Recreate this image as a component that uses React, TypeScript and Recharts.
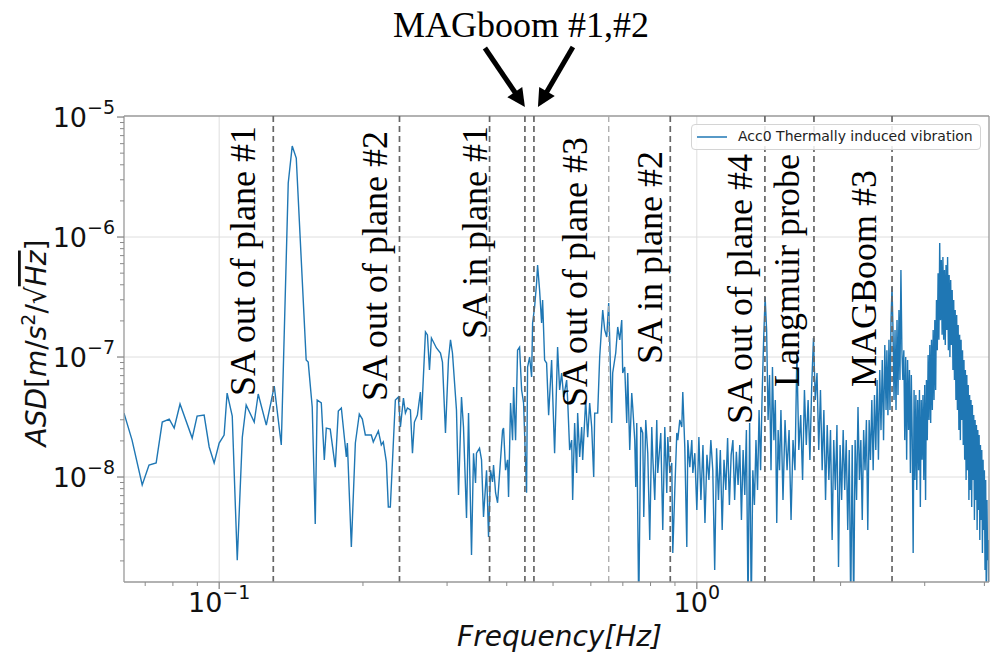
import React from "react";
import { LineChart, Line, XAxis, YAxis, ReferenceLine, Legend } from "recharts";

// Acc0 ASD. Frequency in Hz, ASD in m/s^2/sqrt(Hz)
const lowBandHz = [
  0.0632, 0.0657, 0.069, 0.0713, 0.0738, 0.076, 0.0786, 0.0805, 0.0828, 0.0878,
  0.0899, 0.093, 0.0953, 0.0976, 0.1, 0.1024, 0.1039, 0.1065, 0.1091, 0.1118,
  0.1139, 0.1184, 0.1207, 0.1255, 0.1304, 0.1349, 0.1395, 0.1422, 0.145, 0.1521,
  0.1536, 0.1566, 0.1589, 0.1604, 0.1636, 0.166, 0.1676, 0.1708, 0.175, 0.1776,
  0.1802, 0.1846, 0.1855, 0.1891, 0.1928, 0.1965, 0.1994, 0.2023, 0.2082, 0.2102,
  0.2154, 0.2185, 0.2206, 0.2239, 0.226, 0.2282, 0.2338, 0.2372,
];
const lowBandAsd = [
  3.41e-8, 2.03e-8, 8.6e-9, 1.26e-8, 1.31e-8, 2.87e-8, 3.04e-8, 2.56e-8, 4.06e-8, 2.11e-8,
  3.22e-8, 3.28e-8, 1.78e-8, 1.31e-8, 1.92e-8, 2.24e-8, 5.01e-8, 3.22e-8, 2.03e-9, 2.15e-8,
  3.98e-8, 2.87e-8, 4.92e-8, 2.71e-8, 5.73e-8, 1.85e-8, 2.82e-6, 5.73e-6, 4.55e-6, 9.44e-8,
  9.07e-8, 3.83e-8, 4.06e-9, 4.38e-8, 4.14e-8, 1.39e-8, 2.56e-8, 2.51e-8, 1.21e-8, 3.55e-8,
  3.76e-8, 1.47e-8, 1.92e-8, 2.61e-9, 1.92e-8, 3.35e-8, 3.04e-8, 2.24e-8, 2.24e-8, 1.96e-8,
  2.42e-8, 1.85e-8, 1.96e-8, 1.33e-8, 5.62e-9, 5.62e-9, 4.38e-8, 4.64e-8,
];

const midBandHz = [
  0.2396, 0.2431, 0.2454, 0.2478, 0.2514, 0.2539, 0.2563, 0.26, 0.2638, 0.2651,
  0.2703, 0.2729, 0.2756, 0.2782, 0.285, 0.2906, 0.2934, 0.2977, 0.302, 0.305,
  0.3079, 0.3139, 0.317, 0.3216, 0.3247, 0.3295, 0.3327, 0.3375, 0.3408, 0.3441,
  0.3457, 0.3508, 0.3542, 0.3576, 0.3629, 0.3664, 0.3699, 0.3735, 0.3753, 0.379,
  0.3827, 0.3882, 0.392, 0.3939, 0.3977, 0.4016, 0.4035, 0.4074, 0.4114, 0.4134,
  0.4174, 0.4214, 0.4255, 0.4297, 0.4338, 0.4401, 0.4423, 0.4466, 0.4509, 0.4531,
  0.4575, 0.4619, 0.4641, 0.4686, 0.4732, 0.4755, 0.4801, 0.4847, 0.4895,
  0.4966, 0.499, 0.5038, 0.5087, 0.5111, 0.5162, 0.5212, 0.5262, 0.5339, 0.5365,
  0.5417, 0.547, 0.5496, 0.5549, 0.5603, 0.563, 0.5685, 0.574, 0.5768, 0.5852,
  0.5909, 0.5966, 0.6024, 0.6083, 0.6112, 0.6201, 0.6261, 0.6353, 0.6414, 0.6477,
  0.6539, 0.6571, 0.6634, 0.6666, 0.6764, 0.6829, 0.6896, 0.6963, 0.6996, 0.7064,
  0.7133, 0.7167, 0.7237, 0.7307, 0.7342, 0.7414, 0.745, 0.7486, 0.7558, 0.7632,
  0.7705, 0.7743, 0.7818, 0.7894, 0.797, 0.8048, 0.8087, 0.8165, 0.8244, 0.8284,
  0.8405, 0.8486, 0.8569, 0.8652, 0.8694, 0.8778, 0.8863, 0.8906, 0.8993, 0.908,
  0.9124, 0.9212, 0.9301, 0.9346, 0.9437, 0.9529, 0.9575, 0.9668, 0.9761, 0.9809,
  0.9904, 1.0,
];
const midBandAsd = [
  2.61e-8, 4.55e-8, 3.41e-8, 3.76e-8, 3.62e-8, 1.58e-8, 2.87e-8, 3.28e-8, 5.11e-8, 2.99e-8,
  1.62e-7, 1.53e-7, 7.79e-8, 1.44e-7, 1.19e-7, 1.08e-7, 9.07e-8, 2.33e-8, 9.44e-8, 1.39e-7,
  1.08e-7, 3.62e-8, 7.08e-9, 4.64e-8, 2.61e-8, 4.55e-9, 3.41e-8, 2.24e-9, 1.58e-8, 8.91e-9,
  1.58e-8, 1.74e-8, 1.39e-8, 4.64e-9, 1.14e-8, 3.16e-9, 1.14e-8, 9.1e-9, 1.26e-8, 7.4e-9,
  6.1e-9, 1.39e-8, 2.46e-8, 2.56e-8, 1.14e-8, 1.39e-8, 6.81e-9, 4.14e-8, 2.03e-8, 5.62e-8,
  2.03e-8, 1.14e-7, 1.21e-7, 5.31e-8, 4.14e-8, 7.4e-9, 8.25e-8, 1.0e-7, 6.81e-8, 1.92e-7,
  2.61e-7, 4.14e-7, 5.85e-7, 3.62e-7, 1.92e-7, 2.99e-7, 9.44e-8, 8.91e-8, 3.28e-8,
  9.44e-8, 5.01e-8, 1.58e-8, 6.07e-8, 1.21e-7, 5.31e-8, 7.36e-8, 4.64e-8, 6.43e-8, 4.38e-8,
  1.68e-8, 2.03e-8, 6.43e-9, 2.82e-8, 1.08e-8, 3.41e-8, 1.47e-8, 2.61e-8, 1.39e-8, 4.38e-8,
  2.15e-8, 4.14e-8, 2.61e-8, 1.0e-8, 3.41e-8, 3.41e-8, 1.0e-7, 2.46e-7, 1.68e-7, 1.47e-7,
  2.82e-7, 1.39e-7, 2.82e-8, 7.36e-8, 1.08e-7, 1.78e-7, 1.39e-7, 2.03e-7, 7.36e-8, 8.25e-8,
  2.82e-8, 7.36e-8, 1.68e-8, 5.01e-8, 3.83e-8, 2.03e-8, 8.25e-9, 2.82e-8, 8e-10, 2.61e-8,
  2.33e-8, 4.64e-9, 2.99e-8, 1.58e-8, 2.99e-9, 2.61e-8, 1.47e-8, 6.43e-9, 2.99e-8, 1.08e-8,
  2.33e-8, 3.62e-9, 2.61e-8, 7.36e-9, 2.15e-8, 1.08e-8, 1.31e-8, 2.33e-9, 7.79e-9, 2.33e-8,
  2.03e-8, 2.99e-8, 2.61e-8, 5.11e-8, 1.78e-8, 2.61e-9, 2.03e-8, 1.21e-8, 2.03e-8, 1.08e-8,
  1.58e-8, 5.31e-9,
];

const highBandHz = [
  1.01, 1.02, 1.03, 1.04, 1.05, 1.06, 1.07, 1.08, 1.09, 1.1,
  1.11, 1.12, 1.13, 1.14, 1.15, 1.16, 1.17, 1.18, 1.19, 1.2,
  1.21, 1.22, 1.23, 1.24, 1.25, 1.26, 1.27, 1.28, 1.29, 1.3,
  1.31, 1.32, 1.33, 1.34, 1.35, 1.36, 1.37, 1.38, 1.39, 1.4,
  1.41, 1.42, 1.43, 1.44, 1.45, 1.46, 1.47, 1.48, 1.49, 1.5,
  1.515, 1.53, 1.545, 1.56, 1.575, 1.59, 1.605, 1.62, 1.635, 1.65,
  1.665, 1.68, 1.695, 1.71, 1.725, 1.74, 1.755, 1.77, 1.785, 1.8,
  1.815, 1.83, 1.845, 1.86, 1.875, 1.89, 1.905, 1.92, 1.935, 1.95,
  1.965, 1.98, 1.995, 2.01, 2.025, 2.04, 2.055, 2.07, 2.085, 2.1,
  2.115, 2.13, 2.145, 2.16, 2.175, 2.19, 2.205, 2.22, 2.235, 2.25,
  2.265, 2.28, 2.295, 2.31, 2.325, 2.34, 2.355, 2.37, 2.385, 2.4,
  2.415, 2.43, 2.445, 2.46, 2.475, 2.49,
];
const highBandAsd = [
  2.15e-8, 6.43e-9, 1.85e-8, 4.14e-9, 1.53e-8, 9.44e-9, 2.03e-8, 1.14e-8, 1.68e-9, 1.74e-8,
  6.43e-9, 1.68e-8, 3.62e-9, 1.39e-8, 7.79e-9, 2.11e-8, 5.85e-9, 1.53e-8, 2.03e-8, 6.43e-9,
  1.62e-8, 8.58e-9, 1.85e-8, 4.38e-9, 1.68e-8, 7.08e-9, 2.46e-8, 8e-10, 2.82e-8, 8e-10,
  1.14e-8, 5.85e-9, 2.03e-8, 7.79e-9, 3.62e-8, 1.14e-8, 4.82e-8, 1.39e-7, 3.16e-7, 1.68e-7,
  2.99e-8, 7.08e-8, 1.14e-8, 8.25e-8, 2.03e-8, 4.38e-8, 4.14e-9, 2.46e-8, 1.14e-8, 3.62e-8,
  6.43e-9, 2.99e-8, 1.14e-8, 2.46e-8, 4.38e-9, 2.03e-8, 1.14e-8, 1.08e-7, 1.68e-8, 3.28e-8,
  9.44e-9, 5.31e-8, 1.85e-8, 4.38e-8, 1.39e-8, 5.85e-8, 1.44e-7, 4.38e-8, 7.36e-8, 1.68e-8,
  5.31e-8, 1.14e-8, 3.62e-8, 6.43e-9, 2.71e-8, 9.44e-9, 2.46e-8, 2.99e-9, 2.03e-8, 7.79e-9,
  2.71e-8, 1.78e-9, 1.85e-8, 6.43e-9, 2.46e-8, 7.79e-9, 2.03e-8, 3.62e-9, 1.68e-8, 8e-10,
  1.85e-8, 8e-10, 2.03e-8, 6.43e-9, 3.83e-8, 9.44e-9, 2.03e-8, 4.38e-9, 2.46e-8, 1.14e-8,
  2.99e-8, 3.62e-9, 2.99e-8, 1.39e-8, 4.38e-8, 1.14e-8, 4.82e-8, 1.68e-8, 6.43e-8, 1.39e-8,
  7.79e-8, 2.46e-8, 9.44e-8, 2.03e-8, 1.26e-7, 3.62e-8,
];

// top band, MAGBoom #3 and the 3.2 Hz hump
const topBandHz = [
  2.5, 2.5125, 2.525, 2.5375, 2.55, 2.5625, 2.575, 2.5875,
  2.6, 2.6125, 2.625, 2.6375, 2.65, 2.6625, 2.675, 2.6875,
  2.7, 2.7125, 2.725, 2.7375, 2.75, 2.7625, 2.775, 2.7875,
  2.8, 2.8125, 2.825, 2.8375, 2.85, 2.8625, 2.875, 2.8875,
  2.9, 2.9125, 2.925, 2.9375, 2.95, 2.9625, 2.975, 2.9875,
  3.0, 3.0125, 3.025, 3.0375, 3.05, 3.0625, 3.075, 3.0875,
  3.1, 3.1125, 3.125, 3.1375, 3.15, 3.1625, 3.175, 3.1875,
  3.2, 3.2125, 3.225, 3.2375, 3.25, 3.2625, 3.275, 3.2875,
  3.3, 3.3125, 3.325, 3.3375, 3.35, 3.3625, 3.375, 3.3875,
  3.4, 3.4125, 3.425, 3.4375, 3.45, 3.4625, 3.475, 3.4875,
  3.5, 3.5125, 3.525, 3.5375, 3.55, 3.5625, 3.575, 3.5875,
  3.6, 3.6125, 3.625, 3.6375, 3.65, 3.6625, 3.675, 3.6875,
  3.7, 3.7125, 3.725, 3.7375, 3.75, 3.7625, 3.775, 3.7875,
  3.8, 3.8125, 3.825, 3.8375, 3.85, 3.8625, 3.875, 3.8875,
  3.9, 3.9125, 3.925, 3.9375, 3.95, 3.9625, 3.975, 3.9875,
  4.0, 4.0125, 4.025, 4.0375, 4.05, 4.0625, 4.075, 4.0875,
  4.1,
];
const topBandAsd = [
  1.14e-7, 3.28e-8, 1.39e-7, 3.62e-8, 2.03e-7, 3.83e-7, 1.68e-7, 4.38e-8,
  1.68e-7, 3.62e-8, 2.03e-7, 4.82e-8, 2.46e-7, 6.43e-8, 5.31e-7, 1.14e-7,
  6.43e-8, 1.14e-7, 2.03e-8, 1.0e-7, 1.39e-8, 9.44e-8, 2.46e-8, 7.79e-8,
  1.08e-8, 7.08e-8, 2.03e-8, 2.33e-9, 5.31e-8, 9.44e-9, 4.82e-8, 7.79e-9,
  4.38e-8, 1.14e-8, 5.31e-8, 5.62e-9, 4.38e-8, 1.39e-8, 4.82e-8, 9.44e-9,
  5.85e-8, 6.43e-9, 6.43e-8, 2.03e-8, 1.04e-7, 2.99e-8, 1.26e-7, 2.82e-8,
  1.39e-7, 3.62e-8, 1.68e-7, 4.38e-8, 2.03e-7, 5.31e-8, 2.99e-7, 1.14e-7,
  5.0e-7, 1.39e-7, 8.91e-7, 2.03e-7, 6.43e-7, 1.53e-7, 6.81e-7, 1.39e-7,
  5.31e-7, 1.26e-7, 5.85e-7, 1.68e-7, 6.81e-7, 1.14e-7, 4.82e-7, 1.0e-7,
  4.38e-7, 1.26e-7, 3.62e-7, 7.79e-8, 2.99e-7, 6.43e-8, 2.46e-7, 4.38e-8,
  2.24e-7, 3.62e-8, 1.85e-7, 2.46e-8, 1.53e-7, 2.03e-8, 1.39e-7, 2.99e-8,
  1.14e-7, 1.85e-8, 9.44e-8, 1.39e-8, 7.79e-8, 9.44e-9, 7.08e-8, 1.14e-8,
  5.85e-8, 6.43e-9, 4.82e-8, 7.79e-9, 4.38e-8, 5.62e-9, 3.98e-8, 9.44e-9,
  3.28e-8, 4.38e-9, 2.99e-8, 6.43e-9, 2.71e-8, 3.62e-9, 2.46e-8, 5.31e-9,
  2.24e-8, 2.99e-9, 1.85e-8, 4.38e-9, 1.68e-8, 2.33e-9, 1.39e-8, 3.62e-9,
  1.14e-8, 1.68e-9, 9.44e-9, 8e-10, 6.43e-9, 2.03e-9, 2.99e-9, 8e-10,
  8e-10,
];

const seriesName = "Acc0 Thermally induced vibration";

// axis limits and ticks
const xDomain = [0.0632, 4.09];
const yDomain = [1.334e-9, 1.02e-5];
const xTicks = [0.07, 0.08, 0.09, 0.1, 0.2, 0.3, 0.4, 0.5, 0.6, 0.7, 0.8, 0.9, 1, 2, 3, 4];
const yTicks = [
  2e-9, 3e-9, 4e-9, 5e-9, 6e-9, 7e-9, 8e-9, 9e-9, 1e-8,
  2e-8, 3e-8, 4e-8, 5e-8, 6e-8, 7e-8, 8e-8, 9e-8, 1e-7,
  2e-7, 3e-7, 4e-7, 5e-7, 6e-7, 7e-7, 8e-7, 9e-7, 1e-6,
  2e-6, 3e-6, 4e-6, 5e-6, 6e-6, 7e-6, 8e-6, 9e-6, 1e-5,
];
const gridX = [0.1, 1];
const gridY = [1e-6, 1e-7, 1e-8];

// resonance markers (dashed lines)
const markerHz = [0.1298, 0.2385, 0.3682, 0.4366, 0.456, 0.654, 0.8799, 1.3885, 1.7589, 2.5628];
const markerNames = [
  "SA out of plane #1",
  "SA out of plane #2",
  "SA in plane #1",
  "MAGboom #1",
  "MAGboom #2",
  "SA out of plane #3",
  "SA in plane #2",
  "SA out of plane #4",
  "Langmuir probe",
  "MAGBoom #3",
];
const magboomCaption = "MAGboom #1,#2";

// label placement: [px left of the line to the baseline, px below plot top where text starts]
const markerLayout = [
  [18, 280], [12, 285], [3, 223], [0, 0], [0, 0],
  [22, 291], [8, 248], [13, 308], [15, 271], [16, 271],
];

const data = [
  ...lowBandHz.map((f, i) => ({ f, asd: lowBandAsd[i] })),
  ...midBandHz.map((f, i) => ({ f, asd: midBandAsd[i] })),
  ...highBandHz.map((f, i) => ({ f, asd: highBandAsd[i] })),
  ...topBandHz.map((f, i) => ({ f, asd: topBandAsd[i] })),
];

const BLUE = "#1f77b4";
const SANS = "'DejaVu Sans', sans-serif";
const SERIF = "'Liberation Serif', 'Times New Roman', serif";

const expText = (v: number) => {
  const e = Math.round(Math.log10(v));
  return e < 0 ? "\u2212" + Math.abs(e) : String(e);
};
const isDecade = (v: number) => {
  const e = Math.log10(v);
  return Math.abs(e - Math.round(e)) < 1e-6;
};

// eslint-disable-next-line @typescript-eslint/no-explicit-any
const XTick = ({ x, y, payload }: any) => {
  const major = isDecade(payload.value);
  return (
    <g>
      <line x1={x} x2={x} y1={y} y2={y + (major ? 7 : 4)} stroke="#8a8a8a" strokeWidth={major ? 1.3 : 1} />
      {major && (
        <text x={x} y={y + 30} textAnchor="middle" fontFamily={SANS} fontSize={27} fill="#111">
          10
          <tspan dy={-13} fontSize={19}>
            {expText(payload.value)}
          </tspan>
        </text>
      )}
    </g>
  );
};

// eslint-disable-next-line @typescript-eslint/no-explicit-any
const YTick = ({ x, y, payload }: any) => {
  const major = isDecade(payload.value);
  return (
    <g>
      <line x1={x - (major ? 7 : 4)} x2={x} y1={y} y2={y} stroke="#8a8a8a" strokeWidth={major ? 1.3 : 1} />
      {major && (
        <text x={x - 9} y={y + 10} textAnchor="end" fontFamily={SANS} fontSize={27} fill="#111">
          10
          <tspan dy={-13} fontSize={19}>
            {expText(payload.value)}
          </tspan>
        </text>
      )}
    </g>
  );
};

// eslint-disable-next-line @typescript-eslint/no-explicit-any
const XLabel = ({ viewBox }: any) => (
  <text
    x={viewBox.x + viewBox.width / 2 + 3}
    y={viewBox.y + 64}
    textAnchor="middle"
    fontFamily={SANS}
    fontStyle="italic"
    fontSize={28}
    fill="#111"
  >
    Frequency[Hz]
  </text>
);

// eslint-disable-next-line @typescript-eslint/no-explicit-any
const YLabel = ({ viewBox }: any) => {
  const bx = viewBox.x + 38;
  const cy = viewBox.y + viewBox.height / 2 - 6;
  return (
    <text
      transform={`rotate(-90 ${bx} ${cy})`}
      x={bx}
      y={cy}
      textAnchor="middle"
      fontFamily={SANS}
      fontSize={28}
      fill="#111"
    >
      <tspan fontStyle="italic">ASD</tspan>[<tspan fontStyle="italic">m</tspan>/
      <tspan fontStyle="italic">s</tspan>
      <tspan dy={-11} fontSize={19}>2</tspan>
      <tspan dy={11}>/√</tspan>
      <tspan fontStyle="italic" textDecoration="overline">Hz</tspan>]
    </text>
  );
};

const Arrow = ({ x1, y1, x2, y2 }: { x1: number; y1: number; x2: number; y2: number }) => {
  const len = Math.hypot(x2 - x1, y2 - y1);
  const ux = (x2 - x1) / len;
  const uy = (y2 - y1) / len;
  const hl = 18;
  const hw = 9;
  const bx = x2 - ux * hl;
  const by = y2 - uy * hl;
  return (
    <g>
      <line x1={x1} y1={y1} x2={bx + ux * 2} y2={by + uy * 2} stroke="#000" strokeWidth={5} />
      <polygon
        points={`${x2},${y2} ${bx - uy * hw},${by + ux * hw} ${bx + uy * hw},${by - ux * hw}`}
        fill="#000"
      />
    </g>
  );
};

// eslint-disable-next-line @typescript-eslint/no-explicit-any
const MarkerLabel = ({ viewBox, index }: any) => {
  const { x, y } = viewBox;
  if (index === 3) {
    return (
      <g>
        <text x={x - 4} y={y - 79} textAnchor="middle" fontFamily={SERIF} fontSize={36} fill="#000">
          {magboomCaption}
        </text>
        <Arrow x1={x - 40} y1={y - 68} x2={x} y2={y - 9} />
      </g>
    );
  }
  if (index === 4) return <Arrow x1={x + 39} y1={y - 69} x2={x + 4} y2={y - 9} />;
  const [gap, start] = markerLayout[index];
  const bx = x - gap;
  const by = y + start;
  return (
    <text transform={`rotate(-90 ${bx} ${by})`} x={bx} y={by} fontFamily={SERIF} fontSize={36} fill="#000">
      {markerNames[index]}
    </text>
  );
};

// eslint-disable-next-line @typescript-eslint/no-explicit-any
const LegendBox = ({ payload }: any) => {
  const item = payload && payload[0];
  return (
    <div
      style={{
        display: "flex",
        alignItems: "center",
        border: "1px solid #d4d4d4",
        borderRadius: 4,
        background: "rgba(255,255,255,0.85)",
        padding: "3px 7px 4px 5px",
        fontFamily: SANS,
        fontSize: 14,
        color: "#222",
        whiteSpace: "nowrap",
        lineHeight: "17px",
      }}
    >
      <svg width={30} height={10}>
        <line x1={0} x2={30} y1={5} y2={5} stroke={BLUE} strokeWidth={1.5} />
      </svg>
      <span style={{ marginLeft: 11 }}>{item ? item.value : seriesName}</span>
    </div>
  );
};

const App = () => {
  return (
    <div style={{ width: 990, height: 655, marginTop: -8 }}>
      <LineChart width={990} height={655} data={data} margin={{ top: 116, right: 9, bottom: 0, left: 0 }}>
        <XAxis
          dataKey="f"
          type="number"
          scale="log"
          domain={xDomain}
          allowDataOverflow
          ticks={xTicks}
          interval={0}
          tickSize={0}
          tickMargin={0}
          tickLine={false}
          tick={XTick}
          axisLine={{ stroke: "#999", strokeWidth: 1.3 }}
          height={73}
          label={(p: any) => <XLabel {...p} />}
        />
        <YAxis
          type="number"
          scale="log"
          domain={yDomain}
          allowDataOverflow
          ticks={yTicks}
          interval={0}
          tickSize={0}
          tickMargin={0}
          tickLine={false}
          tick={YTick}
          axisLine={{ stroke: "#999", strokeWidth: 1.3 }}
          width={116}
          label={(p: any) => <YLabel {...p} />}
        />

        {/* major grid */}
        {gridX.map((v) => (
          <ReferenceLine key={`gx${v}`} x={v} stroke="#dedede" strokeWidth={1} />
        ))}
        {gridY.map((v) => (
          <ReferenceLine key={`gy${v}`} y={v} stroke="#dedede" strokeWidth={1} />
        ))}

        <Line
          type="linear"
          dataKey="asd"
          name={seriesName}
          stroke={BLUE}
          strokeWidth={1.4}
          dot={false}
          activeDot={false}
          isAnimationActive={false}
        />

        {/* frame top / right */}
        <ReferenceLine y={yDomain[1]} stroke="#999" strokeWidth={1.3} ifOverflow="visible" />
        <ReferenceLine x={xDomain[1]} stroke="#999" strokeWidth={1.3} ifOverflow="visible" />

        {/* resonance markers */}
        {markerHz.map((f, i) => (
          <ReferenceLine
            key={`m${i}`}
            x={f}
            stroke={i === 5 ? "#aaaaaa" : "#666666"}
            strokeWidth={i === 5 ? 1.3 : 1.7}
            strokeDasharray="6 4"
            label={(p: any) => <MarkerLabel {...p} index={i} />}
          />
        ))}

        <Legend
          layout="horizontal"
          verticalAlign="middle"
          align="center"
          content={(p: any) => <LegendBox {...p} />}
          wrapperStyle={{ top: 124, left: 683, width: "auto", height: "auto" }}
        />
      </LineChart>
    </div>
  );
};

export default App;
